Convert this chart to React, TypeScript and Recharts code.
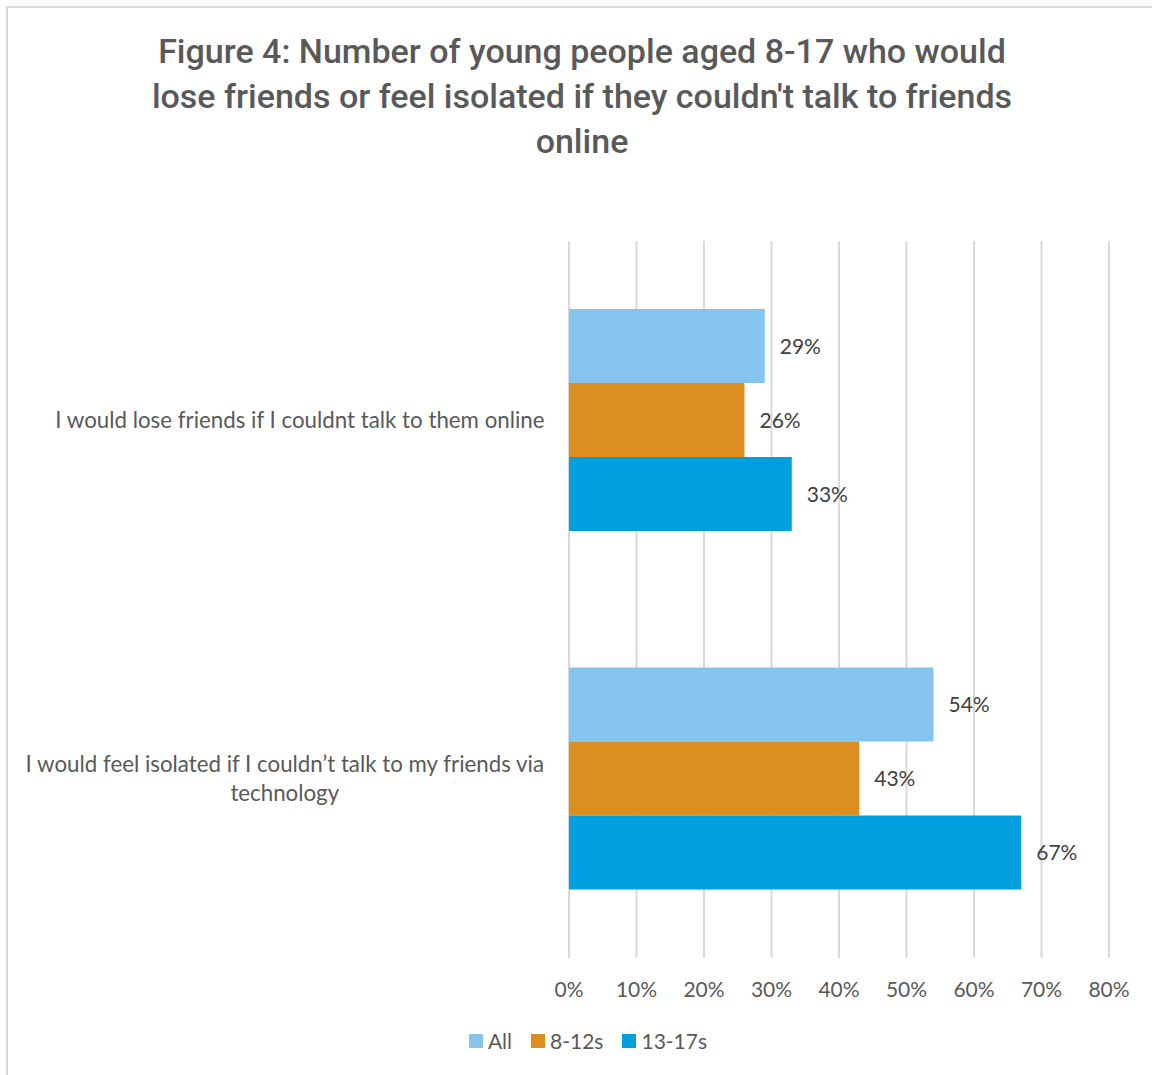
import { Bar, BarChart, CartesianGrid, LabelList, Legend, XAxis, YAxis } from "recharts";

const CATEGORIAS = [
  "I would lose friends if I couldnt talk to them online",
  "I would feel isolated if I couldn’t talk to my friends via technology",
];
const TODOS = [29, 54];
const DOS_8_AOS_12 = [26, 43];
const DOS_13_AOS_17 = [33, 67];
const TICKS_X = [0, 10, 20, 30, 40, 50, 60, 70, 80];
const TITULO = [
  "Figure 4: Number of young people aged 8-17 who would",
  "lose friends or feel isolated if they couldn't talk to friends",
  "online",
];

const SERIES = [
  { key: "all", label: "All", color: "#85C4EF" },
  { key: "kids", label: "8-12s", color: "#DC8F1F" },
  { key: "teens", label: "13-17s", color: "#009FE0" },
];

const CINZA = "#595959";
const GRELHA = "#D9D9D9";
const FONTE = "Lato, 'Open Sans', sans-serif";
const TAM_CAT = 22.3;
const TAM = 21;

const dados = CATEGORIAS.map((name, i) => ({
  name,
  all: TODOS[i],
  kids: DOS_8_AOS_12[i],
  teens: DOS_13_AOS_17[i],
}));

let ctx: CanvasRenderingContext2D | null = null;
function medir(texto: string): number {
  if (!ctx) ctx = document.createElement("canvas").getContext("2d");
  if (!ctx) return texto.length * TAM_CAT * 0.45;
  ctx.font = `${TAM_CAT}px ${FONTE}`;
  return ctx.measureText(texto).width;
}

function partir(texto: string, largura: number): string[] {
  const linhas: string[] = [];
  let atual = "";
  for (const palavra of texto.split(" ")) {
    const tentativa = atual ? atual + " " + palavra : palavra;
    if (atual && medir(tentativa) > largura) {
      linhas.push(atual);
      atual = palavra;
    } else {
      atual = tentativa;
    }
  }
  if (atual) linhas.push(atual);
  return linhas;
}

// Rótulo da categoria: bloco encostado à direita, linhas centradas entre si.
function TickCategoria({ x, y, payload }: { x: number; y: number; payload: { value: string } }) {
  const linhas = partir(String(payload.value), 535);
  const bloco = Math.max(...linhas.map(medir));
  const cx = x - bloco / 2;
  const alturaLinha = 29;
  const y0 = y - ((linhas.length - 1) * alturaLinha) / 2;
  return (
    <text fill={CINZA} fontSize={TAM_CAT} fontFamily={FONTE} textAnchor="middle">
      {linhas.map((l, i) => (
        <tspan key={i} x={cx} y={y0 + i * alturaLinha} dy="0.35em">
          {l}
        </tspan>
      ))}
    </text>
  );
}

function Legenda() {
  return (
    <div
      style={{
        display: "flex",
        justifyContent: "center",
        gap: 19,
        fontFamily: FONTE,
        fontSize: TAM,
        color: CINZA,
      }}
    >
      {SERIES.map((s) => (
        <div key={s.key} style={{ display: "flex", alignItems: "center", gap: 5 }}>
          <span style={{ width: 14, height: 14, background: s.color, display: "inline-block" }} />
          <span>{s.label}</span>
        </div>
      ))}
    </div>
  );
}

export default function App() {
  return (
    <div
      style={{
        position: "absolute",
        left: 0,
        top: 0,
        width: 1152,
        height: 1075,
        overflow: "hidden",
        background: "#fff",
      }}
    >
      <div
        style={{
          position: "absolute",
          left: 6,
          top: 6,
          width: 1300,
          height: 1200,
          borderLeft: `2px solid ${GRELHA}`,
          borderTop: `2px solid ${GRELHA}`,
        }}
      />
      <div
        style={{
          position: "absolute",
          left: 32,
          top: 29,
          width: 1100,
          textAlign: "center",
          fontFamily: "Roboto, sans-serif",
          fontWeight: 500,
          fontSize: 34,
          lineHeight: "45px",
          color: CINZA,
        }}
      >
        {TITULO.map((l, i) => (
          <div key={i}>{l}</div>
        ))}
      </div>
      <div style={{ position: "absolute", left: 0, top: 0 }}>
        <BarChart
          width={1152}
          height={1075}
          data={dados}
          layout="vertical"
          margin={{ top: 241, right: 43, bottom: 47, left: 0 }}
          barCategoryGap="19%"
          barGap={0}
        >
          <CartesianGrid horizontal={false} stroke={GRELHA} strokeWidth={2} />
          <XAxis
            type="number"
            domain={[0, 80]}
            ticks={TICKS_X}
            tickFormatter={(v: number) => `${v}%`}
            tickLine={false}
            axisLine={false}
            tickSize={0}
            tickMargin={24}
            height={40}
            tick={{ fill: CINZA, fontSize: TAM, fontFamily: FONTE }}
          />
          <YAxis
            type="category"
            dataKey="name"
            width={569}
            tickLine={false}
            axisLine={false}
            tickSize={0}
            tickMargin={24}
            tick={(props: any) => <TickCategoria {...props} />}
          />
          <Legend
            content={() => <Legenda />}
            wrapperStyle={{ position: "absolute", left: 0, top: 1028, width: 1176, height: 30 }}
          />
          {SERIES.map((s) => (
            <Bar key={s.key} dataKey={s.key} name={s.label} fill={s.color} isAnimationActive={false}>
              <LabelList
                dataKey={s.key}
                position="right"
                offset={15}
                formatter={(v: number) => `${v}%`}
                fill="#404040"
                fontSize={TAM}
                fontFamily={FONTE}
              />
            </Bar>
          ))}
        </BarChart>
      </div>
    </div>
  );
}
